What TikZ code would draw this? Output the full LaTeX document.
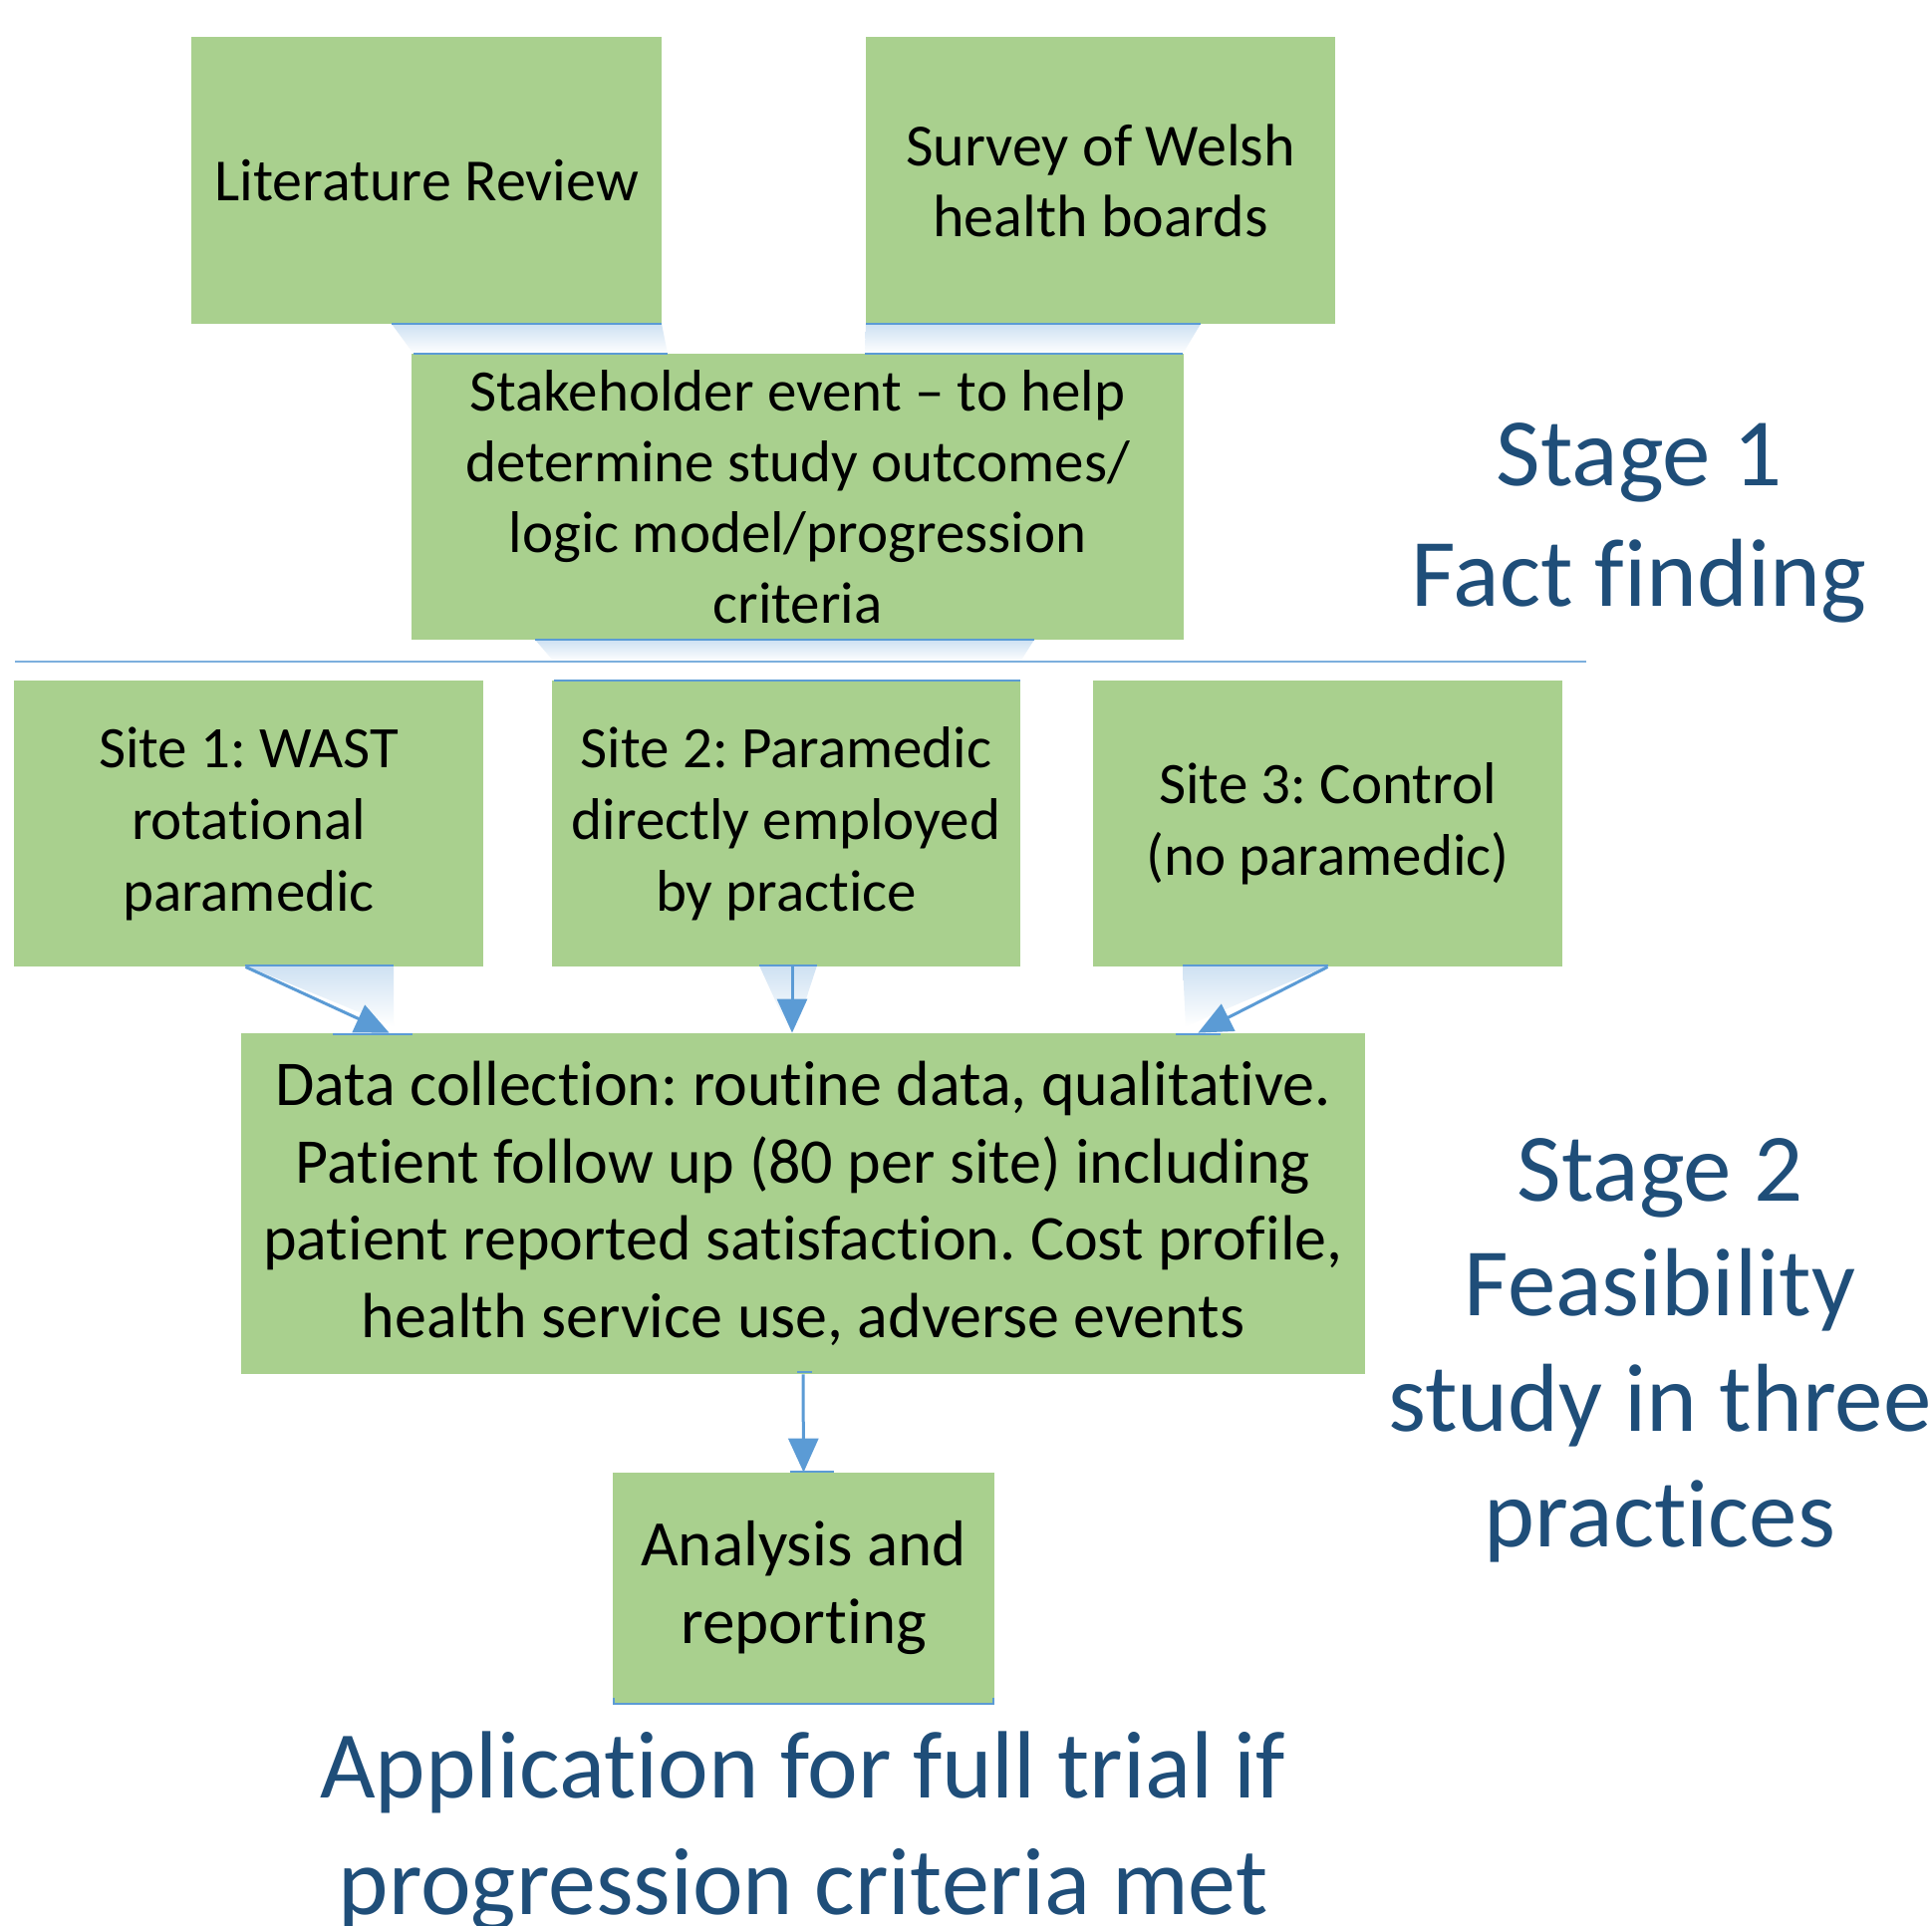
\documentclass[tikz,border=0pt]{standalone}
\usepackage{fontspec}
\setmainfont[Ligatures=NoCommon]{Carlito}
\usetikzlibrary{arrows.meta}
\definecolor{boxgreen}{HTML}{A9D08E}
\definecolor{lineblue}{HTML}{5B9BD5}
\definecolor{stageblue}{HTML}{1F4E79}
\tikzset{
  greenbox/.style={rectangle, fill=boxgreen, draw=none, align=center, inner sep=0pt, text=black},
  bar/.style={draw=lineblue, line width=1.2pt},
  arr/.style={draw=lineblue, line width=1.5pt, -{Triangle[length=17pt,width=15pt]}},
  fade/.style={top color=lineblue!30, bottom color=white, draw=none},
  stagetext/.style={align=center, text=stageblue, inner sep=0pt}
}
\begin{document}
\frenchspacing
\begin{tikzpicture}[x=0.5pt,y=-0.5pt]
\useasboundingbox (0,0) rectangle (1939,1933);
\fill[white] (0,0) rectangle (1939,1933);

% boxes
\node[greenbox, minimum width=236pt, minimum height=144pt, font=\fontsize{30}{35.5}\selectfont] (lit) at (428,181) {Literature Review};
\node[greenbox, minimum width=235.5pt, minimum height=144pt, font=\fontsize{30}{35.5}\selectfont] (survey) at (1104.5,181) {Survey of Welsh\\health boards};
\node[greenbox, minimum width=387.5pt, minimum height=143.5pt, font=\fontsize{29.5}{35.5}\selectfont] (stake) at (800.5,498.5) {Stakeholder event -- to help\\determine study outcomes/\\logic model/progression\\criteria};
\node[greenbox, minimum width=235.5pt, minimum height=143.5pt, font=\fontsize{29.5}{36}\selectfont] (s1) at (249.5,826.5) {Site 1: WAST\\rotational\\paramedic};
\node[greenbox, minimum width=235pt, minimum height=143.5pt, font=\fontsize{29.5}{36}\selectfont] (s2) at (789,826.5) {Site 2: Paramedic\\directly employed\\by practice};
\node[greenbox, minimum width=235.5pt, minimum height=143.5pt, font=\fontsize{29.5}{36}\selectfont] (s3) at (1332.5,826.5) {Site 3: Control\\(no paramedic)};
\node[greenbox, minimum width=564pt, minimum height=171pt, font=\fontsize{32}{38.8}\selectfont] (d) at (806,1208) {Data collection: routine data, qualitative.\\Patient follow up (80 per site) including\\patient reported satisfaction. Cost profile,\\health service use, adverse events};
\node[greenbox, minimum width=191.5pt, minimum height=116pt, font=\fontsize{32.5}{39}\selectfont] (a) at (806.5,1594) {Analysis and\\reporting};

% fades
\shade[fade] (393,325) -- (664,325) -- (670,355) -- (415,355) -- cycle;
\shade[fade] (869,325) -- (1205,325) -- (1187,355) -- (868,355) -- cycle;
\shade[fade] (537,642) -- (1038,642) -- (1024,664) -- (556,664) -- cycle;
\shade[fade] (246,969) -- (395,969) -- (395,1030) -- cycle;
\shade[fade] (762,969) -- (820,969) -- (800,1030) -- (790,1030) -- cycle;
\shade[fade] (1187,969) -- (1333,969) -- (1190,1030) -- cycle;

% bars
\draw[bar] (393,325) -- (664,325);
\draw[bar] (869,325) -- (1205,325);
\draw[bar] (415,355) -- (670,355);
\draw[bar] (868,355) -- (1187,355);
\draw[bar] (537,642) -- (1038,642);
\draw[bar] (556,683) -- (1024,683);
\draw[bar] (246,969) -- (395,969);
\draw[bar] (762,969) -- (820,969);
\draw[bar] (1187,969) -- (1333,969);
\draw[bar] (334,1038) -- (414,1038);
\draw[bar] (1180,1038) -- (1225,1038);
\draw[bar] (793,1477) -- (837,1477);
\draw[bar] (800,1377) -- (815,1377);
\draw[bar] (616,1704) -- (616,1710) -- (997,1710) -- (997,1704);

% separator
\draw[lineblue!80, line width=0.8pt] (15,664) -- (1592,664);

% arrows
\draw[arr] ([xshift=-1.5pt]s1.south) -- ([xshift=74.5pt]d.north west);
\draw[arr] ([xshift=3pt]s2.south) -- ([xshift=3pt]s2.south |- d.north);
\draw[arr] (s3.south) -- ([xshift=-84pt]d.north east);
\draw[arr] (d.south) -- (a.north);

% stage labels
\node[stagetext, font=\fontsize{48.5}{60.5}\selectfont] (st1) at (1645,525) {Stage 1\\Fact finding};
\node[stagetext, font=\fontsize{48.5}{57.8}\selectfont] (st2) at (1666,1355) {Stage 2\\Feasibility\\study in three\\practices};
\node[stagetext, font=\fontsize{48}{58.5}\selectfont, anchor=north] (app) at (806,1737) {Application for full trial if\\progression criteria met};
\end{tikzpicture}
\end{document}
